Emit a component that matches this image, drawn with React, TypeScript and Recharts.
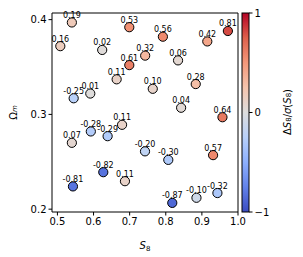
import { ScatterChart, Scatter, XAxis, YAxis, ReferenceArea, LabelList } from 'recharts';

const s8 = [0.54, 0.508, 0.624, 0.699, 0.699, 0.664, 0.545, 0.591, 0.792, 0.915, 0.972, 0.743, 0.834, 0.764, 0.883, 0.8425, 0.5925, 0.639, 0.679, 0.54, 0.627, 0.687, 0.543, 0.957, 0.7425, 0.807, 0.931, 0.818, 0.885, 0.943];
const omegaM = [0.397, 0.372, 0.368, 0.392, 0.352, 0.337, 0.317, 0.322, 0.382, 0.377, 0.388, 0.362, 0.357, 0.327, 0.332, 0.307, 0.282, 0.277, 0.289, 0.27, 0.239, 0.2295, 0.224, 0.297, 0.261, 0.252, 0.257, 0.2066, 0.212, 0.217];
const shift = [0.19, 0.16, 0.02, 0.53, 0.61, 0.11, -0.25, 0.01, 0.56, 0.42, 0.81, 0.32, 0.06, 0.1, 0.28, 0.04, -0.28, -0.29, 0.11, 0.07, -0.82, 0.11, -0.81, 0.64, -0.2, -0.3, 0.57, -0.87, -0.1, -0.32];
const xTicks = [0.5, 0.6, 0.7, 0.8, 0.9, 1.0];
const yTicks = [0.2, 0.3, 0.4];

const data = s8.map((x, i) => ({ x, y: omegaM[i], v: shift[i] }));

// coolwarm anchors (t, r, g, b)
const cw: number[][] = [
  [0, 59, 76, 192],
  [0.125, 98, 130, 234],
  [0.25, 141, 176, 254],
  [0.375, 184, 208, 249],
  [0.5, 221, 221, 221],
  [0.625, 245, 196, 173],
  [0.75, 244, 152, 122],
  [0.875, 222, 96, 76],
  [1, 180, 4, 38],
];

function coolwarm(v: number) {
  const t = Math.max(0, Math.min(1, (v + 1) / 2));
  for (let i = 1; i < cw.length; i++) {
    if (t <= cw[i][0]) {
      const a = cw[i - 1], b = cw[i];
      const f = (t - a[0]) / (b[0] - a[0]);
      const c = [1, 2, 3].map((k) => Math.round(a[k] + (b[k] - a[k]) * f));
      return `rgb(${c[0]},${c[1]},${c[2]})`;
    }
  }
  return 'rgb(180,4,38)';
}

const font = 'DejaVu Sans';

const Dot = (p: any) => (
  <circle cx={p.cx} cy={p.cy} r={4.6} fill={coolwarm(p.payload.v)} stroke="#000" strokeWidth={1} />
);

export default function App() {
  return (
    <div style={{ position: 'relative', width: 295, height: 249, fontFamily: font }}>
      <ScatterChart width={295} height={249} margin={{ top: 5, right: 65, bottom: 0, left: 0 }}>
        <XAxis
          type="number"
          dataKey="x"
          domain={[0.485, 1.0]}
          ticks={xTicks}
          tickFormatter={(v) => v.toFixed(1)}
          height={45}
          tickSize={3.5}
          tickMargin={2}
          axisLine={false}
          stroke="#000"
          tick={{ fill: '#000', fontSize: 10, fontFamily: font }}
          label={{
            content: ({ viewBox }: any) => (
              <text x={viewBox.x + viewBox.width / 2} y={viewBox.y + 37} textAnchor="middle" fontSize={10} fontFamily={font} fontStyle="italic">
                S<tspan fontSize={7} dy={2} fontStyle="normal">8</tspan>
              </text>
            ),
          }}
        />
        <YAxis
          type="number"
          dataKey="y"
          domain={[0.197, 0.407]}
          ticks={yTicks}
          tickFormatter={(v) => v.toFixed(1)}
          width={44}
          tickSize={3.5}
          tickMargin={2}
          axisLine={false}
          stroke="#000"
          tick={{ fill: '#000', fontSize: 10, fontFamily: font }}
          label={{
            content: ({ viewBox }: any) => {
              const cx = 5;
              const cy = viewBox.y + viewBox.height / 2;
              return (
                <text x={cx} y={cy} transform={`rotate(-90 ${cx} ${cy})`} textAnchor="middle" dominantBaseline="central" fontSize={10} fontFamily={font}>
                  Ω<tspan fontSize={7} dy={2} fontStyle="italic">m</tspan>
                </text>
              );
            },
          }}
        />
        <ReferenceArea x1={0.485} x2={1.0} y1={0.197} y2={0.407} fill="none" stroke="#000" strokeWidth={1} ifOverflow="extendDomain" />
        <Scatter data={data} shape={Dot} isAnimationActive={false}>
          <LabelList
            dataKey="v"
            position="top"
            offset={0}
            formatter={(v: any) => Number(v).toFixed(2)}
            style={{ fontSize: 8, fontFamily: font, fill: '#000' }}
          />
        </Scatter>
      </ScatterChart>
      <svg width={295} height={249} style={{ position: 'absolute', left: 0, top: 0, pointerEvents: 'none' }}>
        <defs>
          <linearGradient id="cbar" x1="0" y1="1" x2="0" y2="0">
            {cw.map((c) => (
              <stop key={c[0]} offset={c[0]} stopColor={`rgb(${c[1]},${c[2]},${c[3]})`} />
            ))}
          </linearGradient>
        </defs>
        <rect x={234} y={5} width={7} height={199} fill="url(#cbar)" stroke="#000" strokeWidth={1} />
        {[[1, 5], [0, 104.5], [-1, 204]].map(([v, y]) => (
          <g key={v}>
            <line x1={241} x2={244.5} y1={y} y2={y} stroke="#000" />
            <text x={246.5} y={y} dominantBaseline="central" fontSize={10} fontFamily={font}>
              {v < 0 ? '\u22121' : String(v)}
            </text>
          </g>
        ))}
        <text x={279} y={104} transform="rotate(-90 279 104)" textAnchor="middle" dominantBaseline="central" fontSize={10} fontFamily={font}>
          Δ<tspan fontStyle="italic">S</tspan><tspan fontSize={7} dy={2}>8</tspan><tspan dy={-2}>/</tspan><tspan fontStyle="italic">σ</tspan>(<tspan fontStyle="italic">S</tspan><tspan fontSize={7} dy={2}>8</tspan><tspan dy={-2}>)</tspan>
        </text>
      </svg>
    </div>
  );
}
